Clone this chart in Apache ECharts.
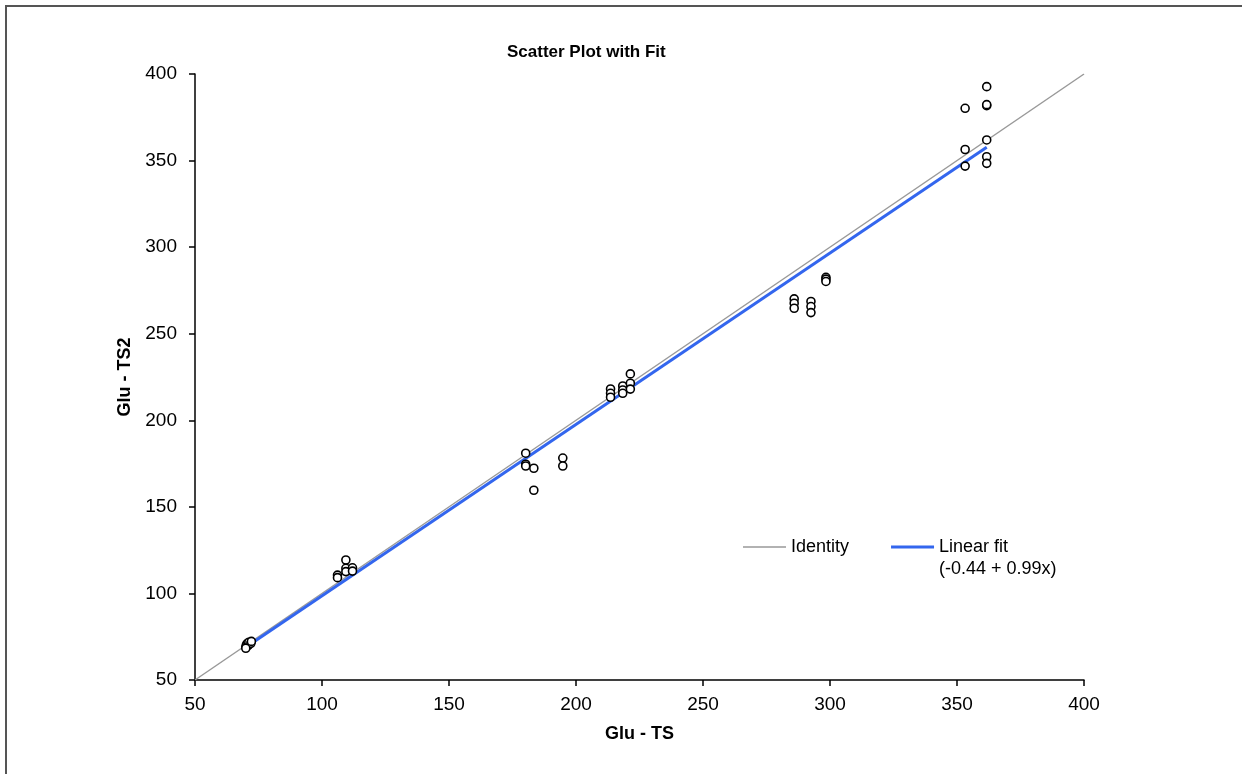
<!DOCTYPE html>
<html>
<head>
<meta charset="utf-8">
<script src="https://cdn.jsdelivr.net/npm/echarts@6/dist/echarts.min.js"></script>
<style>html,body{margin:0;padding:0;background:#fff}#c{width:1242px;height:774px}</style>
</head>
<body>
<div id="c"></div>
<script>
// Observed points [Glu - TS, Glu - TS2]
var points = [
  [70.0, 69.0], [70.2, 70.2], [70.5, 71.0], [71.0, 70.0], [71.2, 71.8], [72.0, 71.2], [72.2, 72.3], [70.0, 68.3],
  [106.1, 110.6], [106.1, 109.1], [109.4, 119.3], [109.4, 114.5], [109.4, 112.6], [112.0, 114.8], [112.0, 112.9],
  [180.2, 181.0], [180.2, 174.6], [180.2, 173.6], [183.4, 172.3], [183.4, 159.6], [194.8, 178.2], [194.8, 173.6],
  [213.6, 218.1], [213.6, 215.6], [213.6, 213.3], [218.4, 219.8], [218.4, 217.5], [218.4, 215.6], [221.4, 226.8], [221.4, 221.4], [221.4, 218.0],
  [285.9, 270.1], [285.9, 267.6], [285.9, 264.7], [292.5, 268.6], [292.5, 265.7], [292.5, 262.2], [298.4, 282.6], [298.4, 281.5], [298.4, 280.2],
  [353.2, 380.2], [353.2, 356.4], [353.2, 346.8], [361.7, 392.7], [361.7, 381.7], [361.7, 382.3], [361.7, 361.9], [361.7, 352.2], [361.7, 348.4]
];
var identityLine = [[50, 50], [400, 400]];
var fitLine = [[70, 68.86], [361.7, 357.64]];
var axisTicks = [50, 100, 150, 200, 250, 300, 350, 400];
var titleText = 'Scatter Plot with Fit';
var xName = 'Glu - TS';
var yName = 'Glu - TS2';
var fitLabel2 = '(-0.44 + 0.99x)';

var chart = echarts.init(document.getElementById('c'), null, {renderer: 'canvas'});
var font = 'Liberation Sans, Arial, sans-serif';
function axis(name, gap, margin) {
  return {
    type: 'value', min: axisTicks[0], max: axisTicks[axisTicks.length - 1], interval: 50,
    name: name, nameLocation: 'middle', nameGap: gap,
    nameTextStyle: {fontFamily: font, fontSize: 18, fontWeight: 'bold', color: '#000'},
    axisLine: {show: true, onZero: false, lineStyle: {color: '#000', width: 1.5}},
    axisTick: {show: true, inside: false, length: 6, lineStyle: {color: '#000', width: 1.5}},
    axisLabel: {fontFamily: font, fontSize: 19, color: '#000', margin: margin},
    splitLine: {show: false}
  };
}
chart.setOption({
  animation: false,
  backgroundColor: '#fff',
  title: {text: titleText, left: 502, top: 39,
    textStyle: {fontFamily: font, fontSize: 17, fontWeight: 'bold', color: '#000'}},
  grid: {left: 195, right: 158, top: 74, bottom: 94, containLabel: false},
  xAxis: axis(xName, 45, 15),
  yAxis: axis(yName, 52, 18),
  legend: {
    left: 743, top: 538, padding: 0, itemWidth: 43, itemHeight: 16, itemGap: 42,
    textStyle: {fontFamily: font, fontSize: 18, color: '#000'},
    data: [
      {name: 'Identity', icon: 'path://M0,0 L43,0 L43,1.5 L0,1.5 Z', itemStyle: {color: '#999'}},
      {name: 'Linear fit', icon: 'path://M0,0 L43,0 L43,3 L0,3 Z', itemStyle: {color: '#3366ee'}}
    ]
  },
  graphic: [
    {type: 'polyline', shape: {points: [[6, 774], [6, 6], [1242, 6]]}, style: {stroke: '#555', lineWidth: 2, fill: null}},
    {type: 'text', left: 939, top: 560, style: {text: fitLabel2, font: '18px Liberation Sans, Arial, sans-serif', fill: '#000'}}
  ],
  series: [
    {name: 'Identity', type: 'line', data: identityLine, showSymbol: false, symbol: 'none',
      lineStyle: {color: '#999', width: 1.5}, z: 2},
    {name: 'Linear fit', type: 'line', data: fitLine, showSymbol: false, symbol: 'none',
      lineStyle: {color: '#3366ee', width: 3}, z: 3},
    {name: 'Data', type: 'scatter', data: points, symbol: 'circle', symbolSize: 8,
      itemStyle: {color: '#fff', borderColor: '#000', borderWidth: 1.6, opacity: 1}, z: 4}
  ]
});
</script>
</body>
</html>
